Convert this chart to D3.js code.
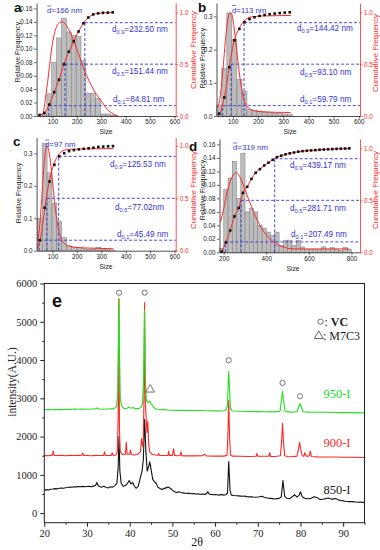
<!DOCTYPE html>
<html>
<head>
<meta charset="utf-8">
<script src="https://cdn.jsdelivr.net/npm/d3@7"></script>
<style>
  body { margin: 0; background: #fff; }
  svg { display: block; }
</style>
</head>
<body>
<div id="chart"></div>
<script>
// ---- size distribution panels (a-d) ----
const binW = 20;
const sizeTicks = [100, 200, 300, 400, 500, 600];
const dTicks = [200, 400, 600, 800];
const freqTicks16 = [0, 0.02, 0.04, 0.06, 0.08, 0.10, 0.12, 0.14, 0.16];
const freqTicks3 = [0, 0.1, 0.2, 0.3];
const cumTicks = [0, 0.5, 1.0];
const levels = [0.1, 0.5, 0.9];
const levelText = ['0.1', '0.5', '0.9'];

// panel a
const aBins = [57, 77, 97, 117, 137, 157, 177, 197, 217, 237, 257, 277, 297, 317, 337];
const aFreq = [0.003, 0.033, 0.080, 0.116, 0.145, 0.125, 0.120, 0.118, 0.082, 0.034, 0.034, 0.026, 0.003, 0.003, 0.001];
const aCumX = [47, 67, 87, 107, 127, 147, 167, 187, 207, 227, 247, 267, 287, 307, 327, 347];
const aCum = [0.01, 0.03, 0.11, 0.23, 0.35, 0.50, 0.62, 0.72, 0.815, 0.895, 0.95, 0.98, 0.99, 0.995, 0.997, 1.0];
const aFit = [[58,0],[65,0.01],[72,0.028],[80,0.05],[88,0.075],[96,0.098],[104,0.116],[112,0.128],[120,0.135],
  [130,0.139],[140,0.14],[150,0.138],[160,0.133],[170,0.126],[180,0.118],[190,0.109],[200,0.099],[210,0.089],
  [220,0.079],[230,0.069],[240,0.06],[250,0.052],[260,0.045],[270,0.038],[280,0.032],[290,0.027],[300,0.022],
  [310,0.017],[320,0.012],[330,0.008],[340,0.005],[350,0.003],[360,0.001],[370,0]];
const aD = [84.81, 151.44, 232.50];
const aDText = ['=84.81 nm', '=151.44 nm', '=232.50 nm'];
const aMean = '=166 nm';

// panel b
const bBins = [36, 56, 76, 96, 116, 136, 156, 176, 196, 216, 236, 256, 276, 296, 316];
const bFreq = [0.033, 0.143, 0.310, 0.230, 0.110, 0.075, 0.020, 0.017, 0.015, 0.012, 0.010, 0.008, 0.007, 0.006, 0.004];
const bCumX = [46, 66, 86, 106, 126, 146, 166, 186, 206, 226, 246, 266, 286, 306, 326];
const bCum = [0.023, 0.178, 0.47, 0.73, 0.84, 0.905, 0.935, 0.952, 0.965, 0.975, 0.982, 0.988, 0.993, 0.997, 1.0];
const bFit = [[40,0.025],[48,0.05],[56,0.1],[64,0.17],[72,0.24],[80,0.29],[88,0.31],[96,0.305],[104,0.27],
  [112,0.22],[120,0.165],[128,0.115],[136,0.077],[144,0.05],[152,0.034],[162,0.024],[175,0.018],[190,0.015],
  [210,0.013],[240,0.012],[270,0.011],[300,0.011],[330,0.01]];
const bCumFit = [[40,0],[46,0.02],[56,0.08],[66,0.18],[76,0.32],[86,0.48],[96,0.62],[106,0.73],[116,0.8],
  [126,0.85],[136,0.89],[146,0.92],[160,0.945],[180,0.958],[220,0.965],[280,0.968],[330,0.97]];
const bD = [59.79, 93.10, 144.42];
const bDText = ['=59.79 nm', '=93.10 nm', '=144.42 nm'];
const bMean = '=113 nm';

// panel c
const cBins = [38, 58, 78, 98, 118, 138, 158, 178, 198, 218, 238, 258, 278, 298, 318, 338];
const cFreq = [0.10, 0.33, 0.24, 0.145, 0.09, 0.04, 0.015, 0.01, 0.01, 0.006, 0.005, 0.005, 0.01, 0.004, 0.003, 0.002];
const cCumX = [48, 68, 88, 108, 128, 148, 168, 188, 208, 228, 248, 268, 288, 308, 328, 348];
const cCum = [0.10, 0.41, 0.66, 0.82, 0.90, 0.93, 0.95, 0.96, 0.967, 0.972, 0.977, 0.982, 0.99, 0.993, 0.996, 0.998];
const cFit = [[40,0.03],[48,0.08],[56,0.16],[64,0.25],[72,0.31],[78,0.322],[86,0.305],[94,0.26],[102,0.2],
  [110,0.14],[118,0.095],[126,0.062],[134,0.04],[144,0.026],[156,0.018],[175,0.013],[200,0.01],[250,0.008],
  [300,0.007],[350,0.006]];
const cCumFit = [[40,0.02],[48,0.08],[58,0.22],[68,0.39],[78,0.55],[88,0.67],[98,0.77],[108,0.84],[118,0.89],
  [128,0.925],[140,0.95],[155,0.962],[180,0.968],[230,0.971],[300,0.973],[350,0.975]];
const cD = [45.49, 77.02, 125.53];
const cDText = ['=45.49 nm', '=77.02nm', '=125.53 nm'];
const cMean = '=97 nm';

// panel d
const dBins = [180, 200, 220, 240, 260, 280, 300, 320, 340, 360, 380, 400, 420, 440, 460, 480,
  500, 520, 540, 560, 580, 600, 620, 640, 660, 680, 700, 720, 740, 760, 780];
const dFreq = [0.006, 0.093, 0.110, 0.135, 0.080, 0.147, 0.060, 0.065, 0.060, 0.040, 0.036, 0.030, 0.025, 0.030, 0.010, 0.018,
  0.018, 0.010, 0.018, 0.008, 0.004, 0.004, 0.004, 0.004, 0.008, 0.004, 0.007, 0.004, 0.003, 0.007, 0.004];
const dCumX = [190, 210, 230, 250, 270, 290, 310, 330, 350, 370, 390, 410, 430, 450, 470, 490,
  510, 530, 550, 570, 590, 610, 630, 650, 670, 690, 710, 730, 750, 770, 790];
const dCum = [0.006, 0.094, 0.21, 0.345, 0.426, 0.571, 0.63, 0.706, 0.765, 0.80, 0.835, 0.862, 0.89, 0.916, 0.93, 0.942,
  0.952, 0.96, 0.968, 0.973, 0.977, 0.98, 0.983, 0.986, 0.989, 0.991, 0.993, 0.995, 0.997, 0.998, 1.0];
const dFit = [[185,0.045],[200,0.065],[215,0.088],[230,0.105],[245,0.115],[258,0.118],[270,0.115],[285,0.105],
  [300,0.093],[315,0.08],[330,0.068],[345,0.056],[360,0.046],[375,0.037],[390,0.03],[405,0.024],[420,0.019],
  [440,0.014],[460,0.01],[480,0.008],[500,0.006],[530,0.005],[600,0.005],[700,0.005],[790,0.005]];
const dD = [207.49, 281.71, 439.17];
const dDText = ['=207.49 nm', '=281.71 nm', '=439.17 nm'];
const dMean = '=319 nm';

// ---- XRD panel (e) ----
const xrdXTicks = [20, 30, 40, 50, 60, 70, 80, 90];
const xrdYTicks = [0, 1000, 2000, 3000, 4000, 5000, 6000];
const xrd850 = [[20,600],[20.5,615],[21,605],[21.5,625],[22,630],[22.5,640],[23,635],[23.5,650],[24,655],[24.5,650],
  [25,665],[25.5,670],[26,680],[26.5,675],[27,690],[27.5,685],[28,695],[28.5,690],[29,700],[29.5,690],[30,695],
  [30.5,700],[31,690],[31.5,705],[32,720],[32.3,800],[32.6,720],[33,690],[33.5,680],[34,700],[34.5,670],[35,660],
  [35.5,690],[36,680],[36.5,720],[37,780],[37.3,1200],[37.5,2000],[37.7,1100],[38,780],[38.5,700],[39,720],
  [39.5,780],[39.9,850],[40.3,760],[40.7,800],[41.1,700],[41.5,650],[42,700],[42.5,930],[42.9,1100],[43.2,1400],
  [43.5,2450],[43.8,1600],[44.1,1100],[44.4,1200],[44.7,1340],[45,1150],[45.4,880],[45.8,820],[46.2,780],
  [46.6,680],[47,650],[47.5,620],[48,640],[48.5,660],[49,680],[49.5,650],[50,600],[50.5,560],[51,540],[51.5,560],
  [52,540],[52.5,530],[53,520],[53.5,515],[54,520],[54.5,505],[55,510],[55.5,500],[56,505],[56.5,495],[57,500],
  [57.5,490],[58,510],[58.3,560],[58.6,500],[59,490],[59.5,480],[60,485],[60.5,480],[61,470],[61.5,490],[62,470],
  [62.5,480],[62.9,520],[63.2,1350],[63.5,600],[63.8,470],[64.5,460],[65,455],[65.5,450],[66,445],[66.5,440],
  [67,445],[67.5,430],[68,425],[68.5,430],[69,420],[69.5,415],[70,420],[70.5,430],[71,440],[71.5,415],[72,400],
  [72.5,390],[73,385],[73.5,380],[74,370],[74.5,380],[75,385],[75.5,420],[75.9,850],[76.3,440],[76.8,390],
  [77.5,380],[78,420],[78.6,480],[79.2,420],[79.7,470],[80,560],[80.4,430],[81,390],[81.5,380],[82,375],
  [82.5,390],[83.2,430],[84,400],[84.5,360],[85,355],[85.5,370],[86,380],[86.5,395],[87,375],[87.5,360],
  [88,380],[88.5,370],[89,340],[89.5,330],[90,320],[90.5,310],[91,305],[91.5,300],[92,300],[92.5,295],[93,290],
  [93.5,285],[94,290],[94.5,280],[95,280]];
const xrd900 = [[20,1500],[20.5,1505],[21,1500],[21.5,1510],[21.9,1515],[22.1,1620],[22.3,1510],[23,1505],[24,1510],
  [25,1500],[26,1510],[27,1505],[28,1510],[28.8,1515],[29,1570],[29.2,1510],[30,1505],[31,1500],[32,1510],
  [33,1505],[33.9,1510],[34.1,1600],[34.3,1510],[35,1505],[35.7,1510],[35.9,1580],[36.1,1510],[36.8,1520],
  [37.1,1600],[37.3,2500],[37.45,5600],[37.6,2200],[37.8,1600],[38.3,1530],[39,1540],[39.2,1850],[39.4,1540],
  [40,1540],[40.2,1650],[40.4,1530],[41,1520],[42,1540],[42.5,1600],[42.8,1950],[43.0,1750],[43.2,1900],
  [43.35,3000],[43.5,5500],[43.65,3000],[43.85,2500],[44.05,2100],[44.25,2400],[44.45,1800],[44.7,1600],
  [45.2,1540],[46,1520],[46.6,1515],[46.8,1560],[47,1510],[48,1505],[49,1510],[49.1,1620],[49.3,1510],[50,1510],
  [50.3,1680],[50.5,1510],[51,1500],[51.8,1505],[52,1600],[52.2,1500],[53,1495],[55,1495],[57,1500],[57.5,1540],
  [58,1495],[60,1490],[62,1490],[62.8,1510],[63.0,2000],[63.2,2950],[63.4,2000],[63.6,1520],[64,1490],[66,1485],
  [68,1480],[69.6,1485],[69.8,1560],[70,1485],[72.6,1485],[72.8,1580],[73,1480],[74,1480],[75.3,1500],
  [75.6,1900],[75.8,2350],[76.0,1900],[76.3,1500],[77,1480],[78,1475],[79.2,1490],[79.5,1650],[79.8,1850],
  [80.1,1650],[80.4,1500],[80.8,1490],[81.0,1580],[81.3,1490],[82,1490],[82.3,1620],[82.6,1480],[84,1470],
  [86,1465],[88,1465],[90,1460],[92,1460],[95,1455]];
const xrd950 = [[20,2700],[21,2708],[22,2700],[23,2712],[24,2704],[25,2716],[26,2708],[27,2722],[28,2714],[29,2722],
  [30,2715],[31,2720],[32,2725],[32.4,2750],[32.8,2720],[33.5,2715],[34.5,2722],[35.5,2725],[36.3,2730],
  [36.9,2780],[37.2,3100],[37.35,4500],[37.5,5600],[37.65,4000],[37.8,3000],[38.1,2800],[38.6,2740],[39.2,2730],
  [39.8,2770],[40.3,2740],[40.8,2760],[41.3,2730],[42,2730],[42.6,2760],[43.0,2850],[43.25,3500],[43.45,5300],
  [43.65,3600],[43.9,2950],[44.3,2880],[44.7,2930],[45.1,2850],[45.6,2760],[46.3,2720],[47,2700],[48,2704],
  [49,2695],[50,2690],[52,2686],[54,2680],[56,2682],[58,2675],[60,2672],[61.5,2670],[62.5,2680],[62.9,2800],
  [63.1,3500],[63.2,3700],[63.35,3300],[63.6,2750],[64,2670],[66,2662],[68,2655],[70,2652],[72,2650],[74,2645],
  [75.2,2660],[75.55,2950],[75.8,3180],[76.05,2950],[76.4,2670],[77,2645],[78,2640],[79.2,2650],[79.6,2780],
  [79.9,2860],[80.2,2780],[80.6,2650],[82,2640],[84,2636],[86,2635],[88,2630],[90,2626],[92,2625],[95,2620]];
const vcMarks = [[37.5,5760],[43.5,5760],[63.2,3995],[75.8,3403],[79.9,3053]];
const m7c3Marks = [[44.8,3230]];
const seriesNames = ['850-I', '900-I', '950-I'];

// ---- drawing ----
const sans = '"Liberation Sans", Arial, sans-serif';
const serif = '"Liberation Serif", "Times New Roman", serif';
const RED = '#ff2626';
const BLUE = '#3434d8';

const svg = d3.select('#chart').append('svg')
  .attr('width', 380).attr('height', 550)
  .style('font-family', sans);

const panels = [
  { letter: 'a', box: [36.6, 175.7, 3, 116], xDom: [35, 605], yMax: 0.168, rMax: 1.09, xTicks: sizeTicks,
    yTicks: freqTicks16, yFmt: '.2f', bins: aBins, freq: aFreq, cumX: aCumX, cum: aCum, fit: aFit, cumFit: null,
    dv: aD, dText: aDText, mean: aMean, letterPos: [14, 11.5], meanPos: [47, 13],
    labPos: [[113, 102], [112, 74], [112, 32]], sizePos: [106, 134], relPos: [19.5, 52], cumPos: [196, 50] },
  { letter: 'b', box: [216.5, 360, 3, 116], xDom: [35, 605], yMax: 0.34, rMax: 1.09, xTicks: sizeTicks,
    yTicks: freqTicks3, yFmt: '.1f', bins: bBins, freq: bFreq, cumX: bCumX, cum: bCum, fit: bFit, cumFit: bCumFit,
    dv: bD, dText: bDText, mean: bMean, letterPos: [198, 11.5], meanPos: [232, 12.5],
    labPos: [[300, 101.5], [300, 75], [297, 31]], sizePos: [290, 134], relPos: [204.5, 58], cumPos: [378, 53] },
  { letter: 'c', box: [36.6, 175.7, 137.5, 250.7], xDom: [35, 605], yMax: 0.349, rMax: 1.08, xTicks: sizeTicks,
    yTicks: freqTicks3, yFmt: '.1f', bins: cBins, freq: cFreq, cumX: cCumX, cum: cCum, fit: cFit, cumFit: cCumFit,
    dv: cD, dText: cDText, mean: cMean, letterPos: [13, 146], meanPos: [45, 147],
    labPos: [[117, 236.5], [115, 210], [110, 167]], sizePos: [106, 269], relPos: [20.5, 193], cumPos: [196, 190] },
  { letter: 'd', box: [219.5, 360, 139, 252.3], xDom: [180, 840], yMax: 0.168, rMax: 1.09, xTicks: dTicks,
    yTicks: freqTicks16, yFmt: '.2f', bins: dBins, freq: dFreq, cumX: dCumX, cum: dCum, fit: dFit, cumFit: null,
    dv: dD, dText: dDText, mean: dMean, letterPos: [189, 151], meanPos: [233, 150],
    labPos: [[291, 237], [290, 211], [290, 168]], sizePos: [293, 271], relPos: [205, 190], cumPos: [378, 190] }
];

function styleAxis(sel, color, size) {
  sel.select('.domain').attr('stroke', color).attr('stroke-width', 0.8);
  sel.selectAll('.tick line').attr('stroke', color).attr('stroke-width', 0.7);
  sel.selectAll('.tick text').attr('fill', color).style('font-size', size + 'px');
}

function drawSizePanel(p) {
  const [x0, x1, y0, y1] = p.box;
  const x = d3.scaleLinear().domain(p.xDom).range([x0, x1]);
  const yL = d3.scaleLinear().domain([0, p.yMax]).range([y1, y0]);
  const yR = d3.scaleLinear().domain([0, p.rMax]).range([y1, y0]);
  const g = svg.append('g');

  // histogram
  g.selectAll('rect.bar')
    .data(p.bins.map((b, i) => ({ b, f: p.freq[i] })))
    .enter().append('rect')
    .attr('x', d => x(d.b))
    .attr('y', d => yL(d.f))
    .attr('width', x(p.xDom[0] + binW) - x(p.xDom[0]))
    .attr('height', d => y1 - yL(d.f))
    .attr('fill', '#bdbdbd')
    .attr('stroke', '#7c7c7c')
    .attr('stroke-width', 0.5);

  // percentile guide lines
  p.dv.forEach((v, i) => {
    const lv = levels[i];
    g.append('line').attr('x1', x(v)).attr('x2', x(v)).attr('y1', yR(0)).attr('y2', yR(lv))
      .attr('stroke', BLUE).attr('stroke-width', 0.9).attr('stroke-dasharray', '3,2');
    g.append('line').attr('x1', x(v)).attr('x2', x1).attr('y1', yR(lv)).attr('y2', yR(lv))
      .attr('stroke', BLUE).attr('stroke-width', 0.9).attr('stroke-dasharray', '3,2');
  });

  // lognormal fit (left axis)
  g.append('path').datum(p.fit)
    .attr('d', d3.line().x(d => x(d[0])).y(d => yL(d[1])).curve(d3.curveMonotoneX))
    .attr('fill', 'none').attr('stroke', RED).attr('stroke-width', 1);

  // cumulative curve (right axis)
  const cumPts = p.cumX.map((v, i) => [v, p.cum[i]]);
  g.append('path').datum(p.cumFit || cumPts)
    .attr('d', d3.line().x(d => x(d[0])).y(d => yR(d[1])).curve(d3.curveMonotoneX))
    .attr('fill', 'none').attr('stroke', RED).attr('stroke-width', 1);

  g.selectAll('rect.sq').data(cumPts).enter().append('rect')
    .attr('x', d => x(d[0]) - 1.3).attr('y', d => yR(d[1]) - 1.3)
    .attr('width', 2.6).attr('height', 2.6).attr('fill', '#111');

  // axes
  const ax = g.append('g').attr('transform', `translate(0,${y1})`)
    .call(d3.axisBottom(x).tickValues(p.xTicks).tickSize(2.5).tickSizeOuter(0).tickPadding(1.5));
  styleAxis(ax, '#222', 6.3);
  const ayl = g.append('g').attr('transform', `translate(${x0},0)`)
    .call(d3.axisLeft(yL).tickValues(p.yTicks).tickFormat(d3.format(p.yFmt)).tickSize(2.5).tickSizeOuter(0).tickPadding(1.5));
  styleAxis(ayl, '#222', 6.3);
  const ayr = g.append('g').attr('transform', `translate(${x1},0)`)
    .call(d3.axisRight(yR).tickValues(cumTicks).tickFormat(d3.format('.1f')).tickSize(2.5).tickSizeOuter(0).tickPadding(1.5));
  styleAxis(ayr, RED, 6.3);

  // titles
  g.append('text').attr('x', p.sizePos[0]).attr('y', p.sizePos[1]).attr('text-anchor', 'middle')
    .style('font-size', '6.8px').attr('fill', '#222').text('Size');
  g.append('text').attr('transform', `translate(${p.relPos[0]},${p.relPos[1]}) rotate(-90)`)
    .attr('text-anchor', 'middle').style('font-size', '7px').attr('fill', '#222').text('Relative Frequency');
  g.append('text').attr('transform', `translate(${p.cumPos[0]},${p.cumPos[1]}) rotate(-90)`)
    .attr('text-anchor', 'middle').style('font-size', '7.8px').attr('fill', RED).text('Cumulative Frequency');

  // panel letter
  g.append('text').attr('x', p.letterPos[0]).attr('y', p.letterPos[1])
    .style('font-size', '13.5px').style('font-weight', 'bold').attr('fill', '#111').text(p.letter);

  // mean size with overbar
  const mt = g.append('text').attr('x', p.meanPos[0]).attr('y', p.meanPos[1])
    .style('font-size', '7.8px').attr('fill', BLUE);
  mt.append('tspan').text('d');
  mt.append('tspan').text(p.mean);
  const dw = mt.node().getSubStringLength(0, 1);
  g.append('line').attr('x1', p.meanPos[0] + 0.3).attr('x2', p.meanPos[0] + dw - 0.3)
    .attr('y1', p.meanPos[1] - 7).attr('y2', p.meanPos[1] - 7)
    .attr('stroke', BLUE).attr('stroke-width', 0.7);

  // percentile labels
  p.dText.forEach((t, i) => {
    const tx = g.append('text').attr('x', p.labPos[i][0]).attr('y', p.labPos[i][1])
      .style('font-size', '8.2px').attr('fill', BLUE);
    tx.append('tspan').text('d');
    tx.append('tspan').attr('dy', 2).style('font-size', '5.6px').text(levelText[i]);
    tx.append('tspan').attr('dy', -2).text(t);
  });
}

panels.forEach(drawSizePanel);

// ---- panel e ----
const ex0 = 44.3, ex1 = 364.5, ey0 = 283.5, ey1 = 522.7;
const xE = d3.scaleLinear().domain([20, 95]).range([ex0, ex1]);
const yE = d3.scaleLinear().domain([-250, 6000]).range([ey1, ey0]);
const ge = svg.append('g');

const lineE = d3.line().x(d => xE(d[0])).y(d => yE(d[1]));
[[xrd850, '#111'], [xrd900, RED], [xrd950, '#20e020']].forEach(([data, col]) => {
  ge.append('path').datum(data).attr('d', lineE)
    .attr('fill', 'none').attr('stroke', col).attr('stroke-width', 1.1).attr('stroke-linejoin', 'round');
});

ge.selectAll('circle.vc').data(vcMarks).enter().append('circle')
  .attr('cx', d => xE(d[0])).attr('cy', d => yE(d[1])).attr('r', 2.6)
  .attr('fill', 'none').attr('stroke', '#777').attr('stroke-width', 1);
ge.selectAll('path.m7').data(m7c3Marks).enter().append('path')
  .attr('transform', d => `translate(${xE(d[0])},${yE(d[1])})`)
  .attr('d', d3.symbol(d3.symbolTriangle, 34))
  .attr('fill', 'none').attr('stroke', '#666').attr('stroke-width', 0.9);

ge.append('rect').attr('x', ex0).attr('y', ey0).attr('width', ex1 - ex0).attr('height', ey1 - ey0)
  .attr('fill', 'none').attr('stroke', '#222').attr('stroke-width', 1);

const exAx = ge.append('g').attr('transform', `translate(0,${ey1})`)
  .call(d3.axisBottom(xE).tickValues(xrdXTicks).tickSize(4).tickSizeOuter(0).tickPadding(3));
const exMin = ge.append('g').attr('transform', `translate(0,${ey1})`)
  .call(d3.axisBottom(xE).tickValues(xrdXTicks.map(v => v + 5)).tickSize(2).tickSizeOuter(0).tickFormat(''));
const eyAx = ge.append('g').attr('transform', `translate(${ex0},0)`)
  .call(d3.axisLeft(yE).tickValues(xrdYTicks).tickFormat(d3.format('d')).tickSize(4).tickSizeOuter(0).tickPadding(3));
const eyMin = ge.append('g').attr('transform', `translate(${ex0},0)`)
  .call(d3.axisLeft(yE).tickValues(xrdYTicks.slice(0, -1).map(v => v + 500)).tickSize(2).tickSizeOuter(0).tickFormat(''));
[exAx, exMin, eyAx, eyMin].forEach(a => {
  a.select('.domain').remove();
  a.selectAll('.tick line').attr('stroke', '#222');
  a.selectAll('.tick text').attr('fill', '#222').style('font-family', serif).style('font-size', '10.5px');
});

ge.append('text').attr('transform', 'translate(16,382) rotate(-90)').attr('text-anchor', 'middle')
  .style('font-family', serif).style('font-size', '11.5px').attr('fill', '#222').text('intensity(A.U.)');
ge.append('text').attr('x', 197).attr('y', 546).attr('text-anchor', 'middle')
  .style('font-family', serif).style('font-size', '12px').attr('fill', '#222').text('2θ');
ge.append('text').attr('x', 52).attr('y', 307).style('font-size', '18px').style('font-weight', 'bold')
  .attr('fill', '#111').text('e');

// legend
ge.append('circle').attr('cx', 320.5).attr('cy', 321.7).attr('r', 2.6)
  .attr('fill', 'none').attr('stroke', '#666').attr('stroke-width', 0.9);
const lv = ge.append('text').attr('x', 324.5).attr('y', 325.5).style('font-family', serif)
  .style('font-size', '12px').attr('fill', '#222');
lv.append('tspan').text(': ');
lv.append('tspan').style('font-weight', 'bold').text('VC');
ge.append('path').attr('transform', 'translate(318.8,336)').attr('d', d3.symbol(d3.symbolTriangle, 34))
  .attr('fill', 'none').attr('stroke', '#555').attr('stroke-width', 0.9);
ge.append('text').attr('x', 323).attr('y', 340).style('font-family', serif)
  .style('font-size', '12px').attr('fill', '#222').text(': M7C3');

// series labels
[[seriesNames[2], '#20d820', 398], [seriesNames[1], RED, 447], [seriesNames[0], '#222', 494]].forEach(([t, c, y]) => {
  ge.append('text').attr('x', 337).attr('y', y).attr('text-anchor', 'middle')
    .style('font-family', serif).style('font-size', '12.5px').attr('fill', c).text(t);
});
</script>
</body>
</html>
